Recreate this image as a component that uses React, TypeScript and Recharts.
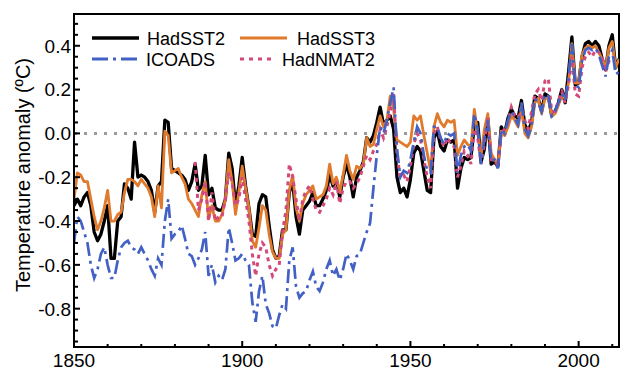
import { LineChart, Line, XAxis, YAxis, ReferenceLine, ReferenceArea } from "recharts";

const FIRST_YEAR = 1850;
const NMAT_FIRST_YEAR = 1886;

// annual anomalies 1850-2012
const HADSST2 = [
  -0.33, -0.30, -0.33, -0.29, -0.27, -0.33, -0.45, -0.49, -0.46, -0.40,
  -0.33, -0.57, -0.57, -0.40, -0.38, -0.23, -0.25, -0.30, -0.04, -0.20,
  -0.19, -0.20, -0.22, -0.26, -0.36, -0.24, -0.22, 0.06, 0.05, -0.16,
  -0.17, -0.18, -0.19, -0.21, -0.26, -0.22, -0.14, -0.26, -0.24, -0.10,
  -0.28, -0.25, -0.34, -0.35, -0.35, -0.30, -0.09, -0.16, -0.33, -0.24,
  -0.11, -0.24, -0.34, -0.46, -0.47, -0.32, -0.28, -0.29, -0.42, -0.53,
  -0.57, -0.56, -0.44, -0.44, -0.27, -0.22, -0.38, -0.46, -0.35, -0.33,
  -0.31, -0.27, -0.33, -0.33, -0.30, -0.26, -0.19, -0.24, -0.21, -0.29,
  -0.20, -0.14, -0.20, -0.29, -0.20, -0.17, -0.13, -0.02, -0.04, -0.01,
  0.05, 0.12, 0.04, 0.06, 0.08, 0.02, -0.20, -0.27, -0.25, -0.29,
  -0.21, -0.09, -0.06, -0.08, -0.17, -0.26, -0.27, -0.02, 0.01, -0.06,
  -0.08, -0.03, -0.04, -0.03, -0.25, -0.16, -0.11, -0.12, -0.11, 0.04,
  0.05, -0.13, -0.07, 0.07, -0.14, -0.13, -0.15, 0.03, 0.00, 0.07,
  0.11, 0.08, 0.07, 0.15, 0.04, 0.01, 0.05, 0.17, 0.16, 0.10,
  0.18, 0.17, 0.08, 0.10, 0.14, 0.20, 0.14, 0.28, 0.44, 0.22,
  0.23, 0.35, 0.41, 0.42, 0.40, 0.42, 0.40, 0.34, 0.29, 0.40,
  0.45, 0.30, 0.34,
];

const HADSST3 = [
  -0.30, -0.18, -0.19, -0.22, -0.22, -0.30, -0.38, -0.44, -0.40, -0.34,
  -0.26, -0.40, -0.40, -0.37, -0.36, -0.27, -0.21, -0.21, -0.22, -0.24,
  -0.21, -0.23, -0.25, -0.29, -0.38, -0.24, -0.34, 0.01, -0.01, -0.18,
  -0.17, -0.16, -0.20, -0.23, -0.30, -0.32, -0.35, -0.38, -0.28, -0.22,
  -0.39, -0.33, -0.40, -0.40, -0.37, -0.30, -0.12, -0.22, -0.37, -0.27,
  -0.15, -0.25, -0.34, -0.49, -0.52, -0.43, -0.33, -0.35, -0.46, -0.54,
  -0.57, -0.57, -0.46, -0.44, -0.26, -0.19, -0.34, -0.40, -0.32, -0.28,
  -0.26, -0.24, -0.30, -0.29, -0.28, -0.24, -0.14, -0.23, -0.20, -0.27,
  -0.19, -0.10, -0.17, -0.21, -0.15, -0.16, -0.14, -0.02, -0.06, -0.05,
  0.02, 0.08, 0.03, 0.06, 0.17, 0.11, -0.03, -0.04, -0.05, -0.06,
  -0.04, 0.08, 0.06, 0.08, -0.01, -0.09, -0.17, 0.03, 0.09, 0.05,
  0.03, 0.06, 0.05, 0.06, -0.10, -0.06, -0.03, -0.05, -0.06, 0.11,
  0.00, -0.10, 0.02, 0.09, -0.09, -0.12, -0.14, 0.01, -0.01, 0.03,
  0.08, 0.06, 0.03, 0.11, 0.00, -0.02, 0.03, 0.14, 0.16, 0.09,
  0.16, 0.16, 0.08, 0.09, 0.13, 0.17, 0.16, 0.23, 0.41, 0.23,
  0.23, 0.36, 0.39, 0.40, 0.39, 0.40, 0.37, 0.34, 0.30, 0.39,
  0.42, 0.30, 0.34,
];

const ICOADS = [
  -0.50, -0.38, -0.40, -0.45, -0.50, -0.60, -0.66, -0.62, -0.55, -0.52,
  -0.60, -0.66, -0.66, -0.58, -0.52, -0.50, -0.49, -0.52, -0.53, -0.55,
  -0.52, -0.55, -0.58, -0.62, -0.65, -0.57, -0.60, -0.40, -0.30, -0.48,
  -0.46, -0.45, -0.42, -0.48, -0.55, -0.56, -0.60, -0.57, -0.53, -0.45,
  -0.65, -0.60, -0.68, -0.65, -0.67, -0.62, -0.43, -0.50, -0.58, -0.57,
  -0.55, -0.58, -0.60, -0.77, -0.86, -0.72, -0.65, -0.78, -0.82, -0.88,
  -0.89, -0.83, -0.78, -0.80, -0.58, -0.52, -0.70, -0.75, -0.73, -0.72,
  -0.67, -0.63, -0.70, -0.72, -0.68, -0.62, -0.58, -0.65, -0.62, -0.67,
  -0.62, -0.55, -0.58, -0.62, -0.56, -0.55, -0.50, -0.45, -0.41, -0.25,
  -0.10, 0.03, 0.00, 0.06, 0.14, 0.21, -0.07, -0.20, -0.17, -0.18,
  -0.12, -0.04, 0.03, 0.00, -0.10, -0.17, -0.18, 0.03, 0.03, -0.02,
  -0.05, 0.00, -0.01, 0.00, -0.18, -0.10, -0.06, -0.05, -0.08, 0.09,
  0.02, -0.14, -0.02, 0.06, -0.13, -0.12, -0.16, 0.02, 0.00, 0.06,
  0.10, 0.07, 0.04, 0.14, 0.02, -0.01, 0.03, 0.16, 0.14, 0.10,
  0.18, 0.17, 0.08, 0.10, 0.14, 0.18, 0.15, 0.26, 0.41, 0.22,
  0.21, 0.33, 0.38, 0.39, 0.38, 0.39, 0.36, 0.31, 0.26, 0.35,
  0.38, 0.27, 0.28,
];

// 1886-2010
const HADNMAT2 = [
  -0.13, -0.35, -0.30, -0.22,
  -0.40, -0.27, -0.40, -0.38, -0.38, -0.30, -0.18, -0.22, -0.33, -0.30,
  -0.20, -0.30, -0.40, -0.55, -0.65, -0.55, -0.50, -0.52, -0.60, -0.65,
  -0.62, -0.60, -0.45, -0.35, -0.14, -0.20, -0.30, -0.40, -0.30, -0.26,
  -0.24, -0.30, -0.35, -0.36, -0.33, -0.30, -0.25, -0.28, -0.22, -0.32,
  -0.25, -0.22, -0.22, -0.25, -0.23, -0.20, -0.15, -0.10, -0.12, -0.08,
  -0.05, 0.02, -0.02, 0.03, 0.10, 0.18, -0.10, -0.20, -0.19, -0.22,
  -0.15, -0.05, 0.00, -0.03, -0.12, -0.20, -0.25, 0.00, 0.03, -0.03,
  -0.06, -0.02, -0.05, -0.06, -0.20, -0.15, -0.08, -0.10, -0.14, 0.02,
  -0.02, -0.14, -0.05, 0.07, -0.12, -0.12, -0.15, 0.00, 0.02, 0.05,
  0.12, 0.08, 0.07, 0.12, 0.06, 0.02, 0.10, 0.18, 0.20, 0.15,
  0.24, 0.25, 0.10, 0.10, 0.15, 0.19, 0.14, 0.22, 0.35, 0.18,
  0.17, 0.30, 0.35, 0.37, 0.35, 0.38, 0.37, 0.35, 0.28, 0.33,
  0.35,
];

const X_TICKS = [1850, 1860, 1870, 1880, 1890, 1900, 1910, 1920, 1930, 1940, 1950, 1960, 1970, 1980, 1990, 2000, 2010];
const Y_TICKS = [
  -0.95, -0.9, -0.85, -0.8, -0.75, -0.7, -0.65, -0.6, -0.55, -0.5, -0.45, -0.4, -0.35, -0.3, -0.25, -0.2,
  -0.15, -0.1, -0.05, 0, 0.05, 0.1, 0.15, 0.2, 0.25, 0.3, 0.35, 0.4, 0.45, 0.5,
];
const Y_LABELS = [-0.8, -0.6, -0.4, -0.2, 0, 0.2, 0.4];

const COLORS = {
  hadsst2: "#000000",
  hadsst3: "#e07a2c",
  icoads: "#4361c4",
  hadnmat2: "#d2497a",
};

const FONT = '"Liberation Sans", Arial, Helvetica, sans-serif';

const rows = HADSST2.map((v, i) => {
  const year = FIRST_YEAR + i;
  const n = year - NMAT_FIRST_YEAR;
  return {
    year,
    hadsst2: v,
    hadsst3: HADSST3[i],
    icoads: ICOADS[i],
    hadnmat2: n >= 0 && n < HADNMAT2.length ? HADNMAT2[n] : null,
  };
});

const XTick = ({ x, y, payload }: any) => {
  const major = payload.value % 50 === 0;
  return (
    <g>
      <line x1={x} x2={x} y1={y} y2={y - (major ? 6 : 3)} stroke="#000" strokeWidth={2} />
      {major && (
        <text x={x} y={y + 20} textAnchor="middle" fontSize={19} fontFamily={FONT} fill="#000">
          {payload.value}
        </text>
      )}
    </g>
  );
};

const YTick = ({ x, y, payload }: any) => {
  const major = Y_LABELS.some((v) => Math.abs(v - payload.value) < 1e-6);
  return (
    <g>
      <line x1={x} x2={x + (major ? 6 : 4)} y1={y} y2={y} stroke="#000" strokeWidth={2} />
      {major && (
        <text x={x - 3} y={y} dy="0.36em" textAnchor="end" fontSize={19} fontFamily={FONT} fill="#000">
          {payload.value.toFixed(1)}
        </text>
      )}
    </g>
  );
};

export default function App() {
  return (
    <div style={{ position: "absolute", left: 0, top: 0, width: 640, height: 379, background: "#fff" }}>
      <LineChart width={640} height={379} data={rows} margin={{ top: 14, right: 21, bottom: 0, left: 0 }}>
        <XAxis
          dataKey="year"
          type="number"
          domain={[1850, 2012]}
          ticks={X_TICKS}
          interval={0}
          height={32}
          tickSize={0}
          tickMargin={0}
          tickLine={false}
          axisLine={{ stroke: "#000", strokeWidth: 2 }}
          tick={<XTick />}
          allowDataOverflow
        />
        <YAxis
          type="number"
          domain={[-0.975, 0.545]}
          ticks={Y_TICKS}
          interval={0}
          width={74}
          tickSize={0}
          tickMargin={0}
          tickLine={false}
          axisLine={{ stroke: "#000", strokeWidth: 2 }}
          tick={<YTick />}
          allowDataOverflow
        />
        <ReferenceLine y={0} stroke="#9a9a9a" strokeWidth={3} strokeDasharray="3 7" />
        <Line dataKey="hadsst2" stroke={COLORS.hadsst2} strokeWidth={3.3} strokeLinejoin="round" dot={false} isAnimationActive={false} />
        <Line dataKey="hadsst3" stroke={COLORS.hadsst3} strokeWidth={2.8} strokeLinejoin="round" dot={false} isAnimationActive={false} />
        <Line dataKey="hadnmat2" stroke={COLORS.hadnmat2} strokeWidth={3} strokeDasharray="4 4" dot={false} isAnimationActive={false} />
        <Line dataKey="icoads" stroke={COLORS.icoads} strokeWidth={2.7} strokeDasharray="14 5 3 5" dot={false} isAnimationActive={false} />
        <ReferenceArea x1={1850} x2={2012} y1={-0.975} y2={0.545} fill="none" stroke="#000" strokeWidth={2} />
      </LineChart>
      <svg width={640} height={379} style={{ position: "absolute", left: 0, top: 0, pointerEvents: "none" }}>
        <text
          transform="translate(30,175) rotate(-90)"
          textAnchor="middle"
          fontSize={20}
          fontFamily={FONT}
          fill="#000"
        >
          Temperature anomaly (ºC)
        </text>
        <g fontSize={18} fontFamily={FONT} fill="#000">
          <line x1={92} x2={139} y1={38} y2={38} stroke={COLORS.hadsst2} strokeWidth={3.5} />
          <text x={147} y={44.5}>HadSST2</text>
          <line x1={240} x2={287} y1={38} y2={38} stroke={COLORS.hadsst3} strokeWidth={3} />
          <text x={297} y={44.5}>HadSST3</text>
          <line x1={92} x2={139} y1={59} y2={59} stroke={COLORS.icoads} strokeWidth={3} strokeDasharray="16 5 3 5" />
          <text x={146} y={65.5}>ICOADS</text>
          <line x1={240} x2={276} y1={59} y2={59} stroke={COLORS.hadnmat2} strokeWidth={3} strokeDasharray="4 5" />
          <text x={282} y={65.5}>HadNMAT2</text>
        </g>
      </svg>
    </div>
  );
}
